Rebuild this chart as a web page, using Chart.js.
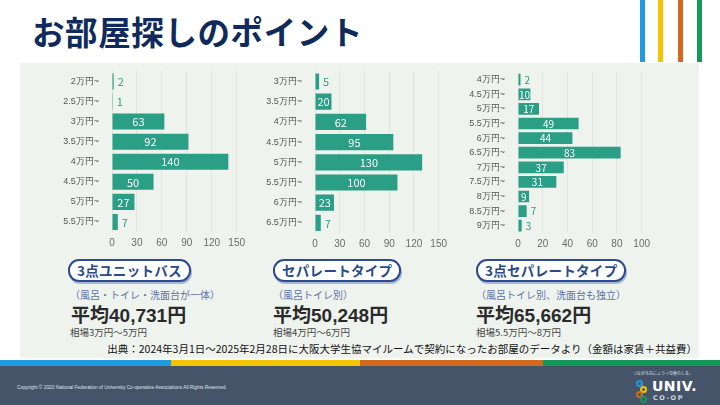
<!DOCTYPE html>
<html lang="ja">
<head>
<meta charset="utf-8">
<script src="https://cdn.jsdelivr.net/npm/chart.js@4.4.1/dist/chart.umd.min.js"></script>
<style>
  html, body { margin: 0; padding: 0; }
  body {
    width: 720px; height: 405px; position: relative; overflow: hidden;
    background: #ffffff; font-family: "Noto Sans CJK JP", "Noto Sans", sans-serif;
  }
  .title {
    position: absolute; left: 32px; top: 9px; font-size: 32.5px; font-weight: 700;
    color: #102a5c; letter-spacing: 0.6px; line-height: 44px;
  }
  .vbar { position: absolute; top: 0; width: 5px; height: 62px; }
  .panel { position: absolute; left: 20px; top: 63px; width: 679px; height: 295px; background: #eef3ee; }
  .chart { position: absolute; }
  .badge {
    position: absolute; top: 259px; height: 19px; line-height: 19px; padding: 0 7px;
    border: 2px solid #2d4b8e; border-radius: 11px; background: #fff;
    color: #2a4a8c; font-weight: 700; font-size: 13.5px; letter-spacing: 0.3px;
    box-shadow: 1px 2px 0 #a9b8d6;
  }
  .sub { position: absolute; top: 288px; font-size: 10px; color: #5d72a8; line-height: 14px; }
  .avg {
    position: absolute; top: 302px; font-size: 19px; font-weight: 700; color: #2b2b2b; line-height: 24px;
    font-family: "Liberation Sans", "Noto Sans CJK JP", sans-serif;
  }
  .avg .jp { font-family: "Noto Sans CJK JP", sans-serif; }
  .range { position: absolute; top: 326px; font-size: 9.5px; color: #444; line-height: 12px; }
  .source {
    position: absolute; right: 23px; top: 342px; font-size: 10.5px; color: #111; line-height: 14px; white-space: nowrap;
  }
  .strip { position: absolute; top: 360px; height: 6px; }
  .footer { position: absolute; left: 0; top: 366px; width: 720px; height: 39px; background: #46546a; }
  .copy { position: absolute; left: 17px; top: 385px; font-size: 4.8px; color: #dfe4ea; white-space: nowrap; font-family: "Liberation Sans", sans-serif; }
  .logo-small { position: absolute; left: 633px; top: 370px; font-size: 4px; color: #dfe4ea; white-space: nowrap; }
  .logo-univ { position: absolute; left: 652px; top: 379px; font-size: 14px; font-weight: 700; color: #fff; font-family: "DejaVu Sans", sans-serif; letter-spacing: 0.5px; line-height: 14px; }
  .logo-coop { position: absolute; left: 653px; top: 394px; font-size: 6.5px; font-weight: 700; color: #cfd6de; font-family: "DejaVu Sans", sans-serif; letter-spacing: 1.5px; line-height: 8px; }
  .dot { position: absolute; width: 7px; height: 7px; border-radius: 50%; border: 2px solid; box-sizing: border-box; }
</style>
</head>
<body>
<div class="title">お部屋探しのポイント</div>
<div class="vbar" style="left:640px;background:#1e9be0"></div>
<div class="vbar" style="left:658px;background:#f2c500"></div>
<div class="vbar" style="left:678px;background:#d2691e"></div>
<div class="vbar" style="left:697px;background:#14995a"></div>

<div class="panel"></div>

<canvas id="chart1" class="chart" width="212" height="191" style="left:38px;top:61px"></canvas>
<canvas id="chart2" class="chart" width="187" height="192" style="left:265px;top:61px"></canvas>
<canvas id="chart3" class="chart" width="187" height="191" style="left:468px;top:62px"></canvas>

<div class="badge" style="left:68px">3点ユニットバス</div>
<div class="badge" style="left:273px">セパレートタイプ</div>
<div class="badge" style="left:476px">3点セパレートタイプ</div>

<div class="sub" style="left:70px">（風呂・トイレ・洗面台が一体）</div>
<div class="sub" style="left:273px">（風呂トイレ別）</div>
<div class="sub" style="left:476px">（風呂トイレ別、洗面台も独立）</div>

<div class="avg" style="left:71px"><span class="jp">平均</span>40,731<span class="jp">円</span></div>
<div class="avg" style="left:273px"><span class="jp">平均</span>50,248<span class="jp">円</span></div>
<div class="avg" style="left:476px"><span class="jp">平均</span>65,662<span class="jp">円</span></div>

<div class="range" style="left:70px">相場3万円～5万円</div>
<div class="range" style="left:273px">相場4万円～6万円</div>
<div class="range" style="left:476px">相場5.5万円～8万円</div>

<div class="source">出典：2024年3月1日～2025年2月28日に大阪大学生協マイルームで契約になったお部屋のデータより（金額は家賃＋共益費）</div>

<div class="strip" style="left:0;width:171px;background:#1e9be0"></div>
<div class="strip" style="left:171px;width:189px;background:#f2c500"></div>
<div class="strip" style="left:360px;width:183px;background:#d2691e"></div>
<div class="strip" style="left:543px;width:177px;background:#14995a"></div>
<div class="footer"></div>
<div class="copy">Copyright © 2020 National Federation of University Co-operative Associations All Rights Reserved.</div>
<div class="logo-small">つながる先にミライの暮らしを。</div>
<div class="dot" style="left:636px;top:380px;border-color:#1e9be0"></div>
<div class="dot" style="left:640px;top:386px;border-color:#f2c500"></div>
<div class="dot" style="left:636px;top:391px;border-color:#d2691e"></div>
<div class="dot" style="left:640px;top:396px;border-color:#14995a"></div>
<div class="logo-univ">UNIV.</div>
<div class="logo-coop">CO-OP</div>

<script>
// 3点ユニットバス
const unitLabels = ["2万円~", "2.5万円~", "3万円~", "3.5万円~", "4万円~", "4.5万円~", "5万円~", "5.5万円~"];
const unitCounts = [2, 1, 63, 92, 140, 50, 27, 7];

// セパレートタイプ
const sepLabels = ["3万円~", "3.5万円~", "4万円~", "4.5万円~", "5万円~", "5.5万円~", "6万円~", "6.5万円~"];
const sepCounts = [5, 20, 62, 95, 130, 100, 23, 7];

// 3点セパレートタイプ
const sep3Labels = ["4万円~", "4.5万円~", "5万円~", "5.5万円~", "6万円~", "6.5万円~", "7万円~", "7.5万円~", "8万円~", "8.5万円~", "9万円~"];
const sep3Counts = [2, 10, 17, 49, 44, 83, 37, 31, 9, 7, 3];

const TEAL = "#2b9e86";

// 値ラベル: 大きいバーは中に白文字、小さいバーは外に緑文字
const valueLabels = {
  id: "valueLabels",
  afterDatasetsDraw(chart, args, opts) {
    const ctx = chart.ctx;
    const meta = chart.getDatasetMeta(0);
    const values = chart.data.datasets[0].data;
    ctx.save();
    ctx.font = opts.size + 'px "Noto Sans CJK JP", sans-serif';
    ctx.textBaseline = "middle";
    meta.data.forEach((bar, i) => {
      const v = values[i];
      if (v >= 8) {
        ctx.fillStyle = "#ffffff";
        ctx.textAlign = "center";
        ctx.fillText(v, (bar.x + bar.base) / 2, bar.y + 0.5);
      } else {
        ctx.fillStyle = TEAL;
        ctx.textAlign = "left";
        ctx.fillText(v, bar.x + 4, bar.y + 0.5);
      }
    });
    ctx.restore();
  },
};

function makeChart(id, labels, values, max, step, axisWidth, labelSize) {
  const ctx = document.getElementById(id).getContext("2d");
  return new Chart(ctx, {
    type: "bar",
    data: {
      labels: labels,
      datasets: [
        {
          data: values,
          backgroundColor: TEAL,
          barPercentage: 0.8,
          categoryPercentage: 1,
        },
      ],
    },
    options: {
      indexAxis: "y",
      responsive: false,
      animation: false,
      layout: { padding: { top: 5, right: 12, left: 0, bottom: 0 } },
      plugins: {
        legend: { display: false },
        tooltip: { enabled: false },
        valueLabels: { size: labelSize },
      },
      scales: {
        x: {
          min: 0,
          max: max,
          ticks: { stepSize: step, color: "#6b6b6b", font: { size: 10 }, padding: 5 },
          grid: { color: "#dfe5df", drawTicks: false },
          border: { display: false },
          afterFit(axis) { axis.height = 20; },
        },
        y: {
          ticks: { color: "#555555", font: { size: 9 }, padding: 5 },
          grid: { display: false },
          border: { display: false },
          afterFit(axis) { axis.width = axisWidth; },
        },
      },
    },
    plugins: [valueLabels],
  });
}

makeChart("chart1", unitLabels, unitCounts, 150, 30, 74, 11);
makeChart("chart2", sepLabels, sepCounts, 150, 30, 50, 11);
makeChart("chart3", sep3Labels, sep3Counts, 100, 20, 50, 10);
</script>
</body>
</html>
